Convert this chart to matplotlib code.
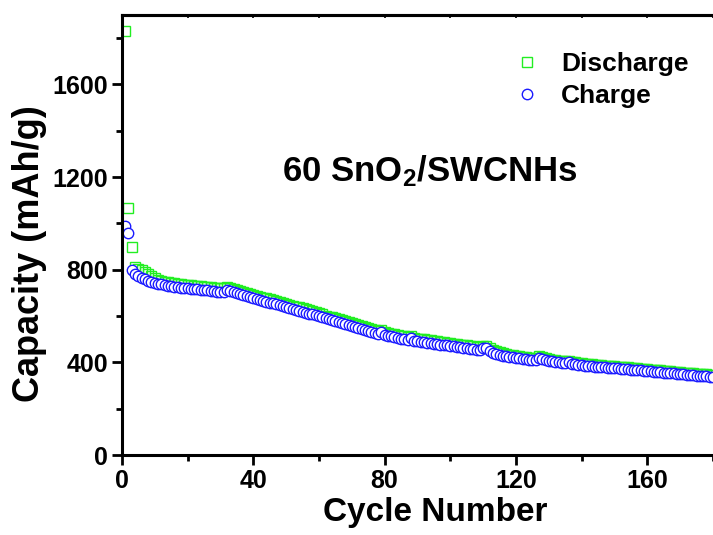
import numpy as np
import matplotlib.pyplot as plt
from matplotlib.ticker import MultipleLocator

plt.rcParams['font.family'] = ['Liberation Sans', 'DejaVu Sans']
plt.rcParams['font.weight'] = 'bold'
plt.rcParams['mathtext.fontset'] = 'custom'
plt.rcParams['mathtext.rm'] = 'Liberation Sans:bold'
plt.rcParams['mathtext.it'] = 'Liberation Sans:bold'
plt.rcParams['mathtext.bf'] = 'Liberation Sans:bold'

# Data (mAh/g per cycle)
cycles = np.arange(1, 181)

charge = [
    988, 958, 800, 782, 772, 765, 758, 752, 748, 744,
    740, 737, 734, 731, 729, 727, 725, 723, 722, 720,
    718, 717, 716, 714, 713, 712, 710, 708, 706, 705,
    706, 712, 708, 702, 698, 694, 690, 686, 682, 678,
    674, 670, 666, 662, 658, 655, 651, 647, 643, 639,
    635, 631, 627, 623, 619, 615, 611, 607, 603, 599,
    595, 590, 586, 582, 578, 574, 570, 566, 561, 557,
    553, 549, 545, 540, 536, 532, 528, 524, 530, 520,
    516, 512, 509, 506, 503, 500, 498, 505, 494, 491,
    489, 487, 485, 483, 481, 479, 477, 475, 473, 471,
    469, 467, 465, 463, 461, 459, 457, 455, 453, 460,
    462, 448, 440, 436, 432, 428, 426, 424, 422, 420,
    418, 416, 414, 412, 410, 412, 418, 414, 410, 406,
    404, 402, 400, 398, 396, 400, 394, 392, 390, 388,
    386, 385, 384, 382, 381, 380, 378, 377, 376, 375,
    374, 372, 371, 370, 369, 368, 366, 365, 364, 362,
    361, 360, 358, 357, 356, 354, 353, 352, 350, 349,
    348, 346, 345, 344, 343, 342, 341, 340, 339, 338,
]

discharge = [
    1829, 1066, 897, 812, 805, 798, 790, 780, 772, 766,
    754, 751, 748, 745, 743, 741, 739, 737, 736, 734,
    732, 731, 730, 728, 727, 726, 724, 722, 720, 719,
    722, 726, 722, 716, 712, 708, 704, 700, 696, 692,
    688, 684, 680, 676, 672, 669, 665, 661, 657, 653,
    649, 645, 641, 637, 633, 629, 625, 621, 617, 613,
    607, 602, 598, 594, 590, 586, 582, 578, 573, 569,
    565, 561, 557, 552, 548, 544, 540, 536, 540, 532,
    528, 524, 521, 518, 515, 512, 510, 514, 506, 503,
    501, 499, 497, 495, 493, 491, 489, 487, 485, 483,
    481, 479, 477, 475, 473, 471, 469, 467, 465, 470,
    472, 460, 452, 448, 444, 440, 437, 434, 431, 429,
    426, 424, 422, 420, 418, 420, 426, 422, 418, 414,
    412, 410, 408, 406, 404, 407, 402, 400, 398, 396,
    394, 393, 392, 390, 389, 388, 386, 385, 384, 383,
    382, 380, 379, 378, 377, 376, 374, 373, 372, 370,
    369, 368, 366, 365, 364, 362, 361, 360, 358, 357,
    356, 354, 353, 352, 351, 350, 349, 348, 347, 346,
]

fig = plt.figure(figsize=(7.13, 5.35), dpi=100)
ax = fig.add_axes([0.171, 0.1495, 0.829, 0.8225])

ax.plot(cycles, discharge, ls='none', marker='s', ms=6.5, mfc='none',
        mec='#22ee22', mew=1.0, label='Discharge')
ax.plot(cycles, charge, ls='none', marker='o', ms=7.5, mfc='white',
        mec='#1a1aff', mew=1.0, label='Charge')

ax.set_xlim(0, 180)
ax.set_ylim(0, 1900)
ax.xaxis.set_major_locator(MultipleLocator(40))
ax.xaxis.set_minor_locator(MultipleLocator(20))
ax.yaxis.set_major_locator(MultipleLocator(400))
ax.yaxis.set_minor_locator(MultipleLocator(200))

for s in ax.spines.values():
    s.set_linewidth(2.2)
ax.spines['right'].set_visible(False)

ax.tick_params(axis='both', which='major', labelsize=18, width=2, length=7, pad=3)
ax.tick_params(axis='both', which='minor', width=2, length=4.5)
ax.tick_params(axis='both', which='both', direction='out')
for lab in ax.get_xticklabels() + ax.get_yticklabels():
    lab.set_fontweight('bold')

# small inward ticks on the top spine
top = ax.secondary_xaxis('top')
top.xaxis.set_major_locator(MultipleLocator(20))
top.tick_params(direction='in', length=2, width=1.2, labeltop=False)
top.spines['top'].set_linewidth(2.2)

ax.set_xlabel('Cycle Number', fontsize=24, fontweight='bold')
ax.set_ylabel('Capacity (mAh/g)', fontsize=26, fontweight='bold')
ax.xaxis.set_label_coords(0.53, -0.095)
ax.yaxis.set_label_coords(-0.127, 0.457)

ax.text(0.52, 0.645, r'60 SnO$_{2}$/SWCNHs', transform=ax.transAxes,
        fontsize=25, fontweight='bold', ha='center', va='center')

ax.legend(loc='upper left', bbox_to_anchor=(0.64, 0.945), frameon=False,
          handlelength=1, handletextpad=0.8, borderpad=0,
          labelspacing=0.3, prop={'weight': 'bold', 'size': 19})

fig.savefig('out.png', dpi=100)
